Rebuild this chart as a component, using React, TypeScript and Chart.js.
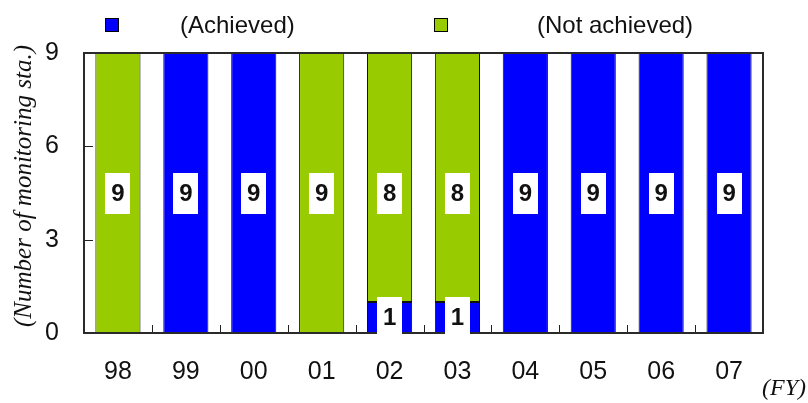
import React, { useEffect, useRef } from "react";
import { Chart, registerables } from "chart.js";

Chart.register(...registerables);

const categories = ["98", "99", "00", "01", "02", "03", "04", "05", "06", "07"];
const achieved: (number | null)[] = [null, 9, 9, null, 1, 1, 9, 9, 9, 9];
const notAchieved: (number | null)[] = [9, null, null, 9, 8, 8, null, null, null, null];
const seriesLabels = ["(Achieved)", "(Not achieved)"];
const seriesColors = ["#0000FF", "#99CC00"];
const yTicks = [0, 3, 6, 9];
const yTitle = "(Number of monitoring sta.)";
const xUnit = "(FY)";

const SANS = "'Liberation Sans', Arial, sans-serif";
const SERIF = "'Liberation Serif', 'Times New Roman', serif";

const overlay = {
  id: "overlay",
  afterDatasetsDraw(chart: any) {
    const { ctx, chartArea: a, scales } = chart;
    const x = scales.x;
    const y = scales.y;
    ctx.save();
    // inward ticks
    ctx.strokeStyle = "#222";
    ctx.lineWidth = 1;
    yTicks.forEach((v) => {
      if (v > yTicks[0] && v < yTicks[yTicks.length - 1]) {
        const py = Math.round(y.getPixelForValue(v)) + 0.5;
        ctx.beginPath();
        ctx.moveTo(a.left, py);
        ctx.lineTo(a.left + 9, py);
        ctx.stroke();
      }
    });
    for (let i = 0; i < categories.length - 1; i++) {
      const px = Math.round((x.getPixelForValue(i) + x.getPixelForValue(i + 1)) / 2) + 0.5;
      ctx.beginPath();
      ctx.moveTo(px, a.bottom);
      ctx.lineTo(px, a.bottom - 8);
      ctx.stroke();
    }
    // frame
    ctx.lineWidth = 2;
    ctx.strokeStyle = "#2a2a2a";
    ctx.strokeRect(a.left, a.top, a.right - a.left, a.bottom - a.top);

    // data labels
    const totals = categories.map((_, i) => (achieved[i] || 0) + (notAchieved[i] || 0));
    const series = [achieved, notAchieved];
    series.forEach((data, di) => {
      data.forEach((v, i) => {
        if (v === null || v === undefined) return;
        const base = di === 0 ? 0 : achieved[i] || 0;
        const mid = v >= 5 ? totals[i] / 2 : base + v / 2;
        const cx = x.getPixelForValue(i);
        const cy = y.getPixelForValue(mid);
        const bw = 25;
        const bh = 41;
        ctx.fillStyle = "#ffffff";
        ctx.fillRect(Math.round(cx - bw / 2), Math.round(cy - bh / 2), bw, bh);
        ctx.fillStyle = "#111";
        ctx.font = `bold 24px ${SANS}`;
        ctx.textAlign = "center";
        ctx.textBaseline = "middle";
        ctx.fillText(String(v), cx, cy + 1);
      });
    });
    ctx.restore();
  },
  afterDraw(chart: any) {
    const { ctx } = chart;
    ctx.save();
    // legend
    const legendSquares = [105, 434];
    const legendTexts = [180, 537];
    seriesLabels.forEach((lbl, i) => {
      ctx.fillStyle = seriesColors[i];
      ctx.fillRect(legendSquares[i], 18, 13, 13);
      ctx.strokeStyle = "#000";
      ctx.lineWidth = 1;
      ctx.strokeRect(legendSquares[i] + 0.5, 18.5, 13, 13);
      ctx.fillStyle = "#111";
      ctx.font = `24px ${SANS}`;
      ctx.textAlign = "left";
      ctx.textBaseline = "middle";
      ctx.fillText(lbl, legendTexts[i], 26);
    });
    // y title
    ctx.save();
    ctx.translate(24, 186);
    ctx.rotate(-Math.PI / 2);
    ctx.font = `italic 25px ${SERIF}`;
    ctx.fillStyle = "#111";
    ctx.textAlign = "center";
    ctx.textBaseline = "middle";
    ctx.fillText(yTitle, 0, 0);
    ctx.restore();
    // x unit
    ctx.font = `italic 24px ${SERIF}`;
    ctx.fillStyle = "#111";
    ctx.textAlign = "right";
    ctx.textBaseline = "middle";
    ctx.fillText(xUnit, 806, 389);
    ctx.restore();
  },
};

export default function App() {
  const ref = useRef<HTMLCanvasElement>(null);
  useEffect(() => {
    if (!ref.current) return;
    const chart = new Chart(ref.current, {
      type: "bar",
      data: {
        labels: categories,
        datasets: [
          {
            label: seriesLabels[0],
            data: achieved,
            backgroundColor: seriesColors[0],
            borderColor: "#111",
            borderWidth: 1,
            borderSkipped: false,
            barPercentage: 0.665,
            categoryPercentage: 1,
          },
          {
            label: seriesLabels[1],
            data: notAchieved,
            backgroundColor: seriesColors[1],
            borderColor: "#111",
            borderWidth: 1,
            borderSkipped: false,
            barPercentage: 0.665,
            categoryPercentage: 1,
          },
        ],
      } as any,
      options: {
        animation: false,
        responsive: false,
        layout: { padding: { top: 53, right: 45, left: 0, bottom: 0 } },
        plugins: { legend: { display: false }, tooltip: { enabled: false } },
        scales: {
          x: {
            stacked: true,
            grid: { display: false },
            border: { display: false },
            ticks: { color: "#111", font: { family: SANS, size: 25 }, padding: 16 },
            afterFit: (s: any) => {
              s.height = 70;
            },
          },
          y: {
            stacked: true,
            min: 0,
            max: 9,
            grid: { display: false },
            border: { display: false },
            ticks: {
              stepSize: 3,
              color: "#111",
              font: { family: SANS, size: 25 },
              padding: 17,
            },
            afterFit: (s: any) => {
              s.width = 84;
            },
          },
        },
      } as any,
      plugins: [overlay],
    });
    return () => chart.destroy();
  }, []);
  return (
    <div style={{ position: "fixed", left: 0, top: 0, width: 808, height: 403, background: "#fff" }}>
      <canvas ref={ref} width={808} height={403} />
    </div>
  );
}
